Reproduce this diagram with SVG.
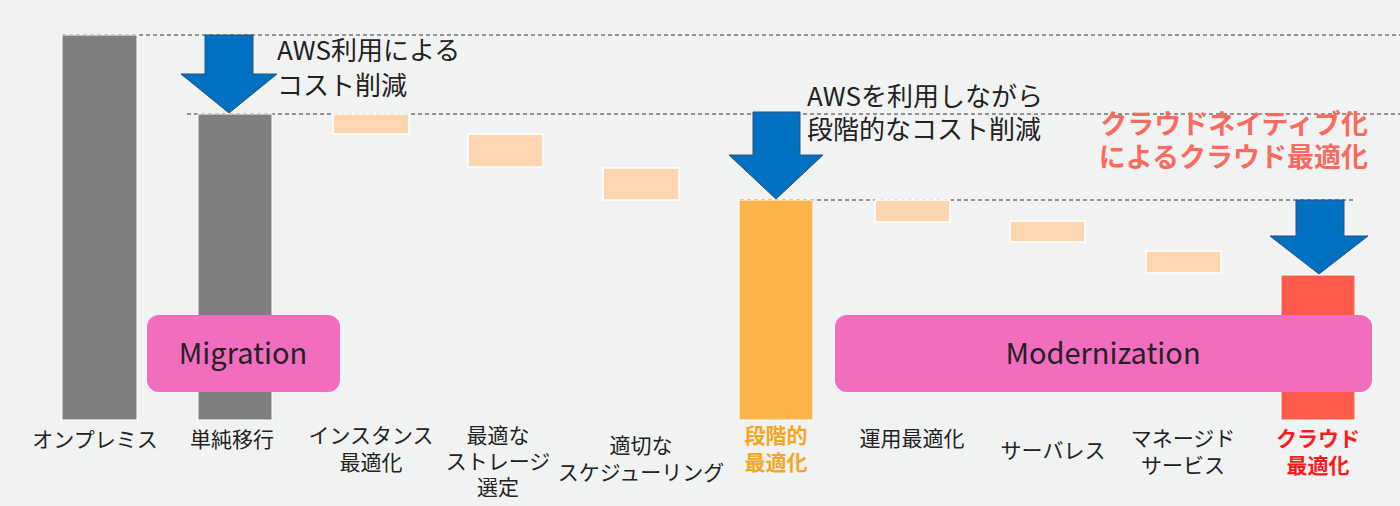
<svg xmlns="http://www.w3.org/2000/svg" width="1400" height="506" viewBox="0 0 1400 506">
<style>
text{font-family:"Noto Sans CJK JP","Noto Sans",sans-serif;fill:#222}
.lbl{font-size:21px;text-anchor:middle}
.big{font-size:26px}
.step{fill:#FDD5B1;stroke:#fff;stroke-width:1.5}
.dash{stroke:#333;stroke-width:1;stroke-dasharray:4 3}
.arr{fill:#0070C0;stroke:#2F4F7F;stroke-width:1}
.pill{fill:#F26DBD}
.red{fill:#F96B5E;font-weight:bold;font-size:27px}
</style>
<rect width="1400" height="506" fill="#F1F2F2"/>
<g id="connectors">
<line class="dash" x1="62" y1="35" x2="1400" y2="35"/>
<line class="dash" x1="187" y1="114" x2="1400" y2="114"/>
<line class="dash" x1="740" y1="200" x2="1355" y2="200"/>
</g>
<g id="onprem"><rect x="62" y="35" width="75" height="385" fill="#7F7F7F" stroke="#fff"/><text class="lbl" x="95" y="447">オンプレミス</text></g>
<g id="simple"><rect x="198" y="114" width="74" height="306" fill="#7F7F7F" stroke="#fff"/><text class="lbl" x="232" y="447">単純移行</text></g>
<g id="inst"><rect class="step" x="333" y="114" width="76" height="20"/><text class="lbl" x="371" y="443">インスタンス</text><text class="lbl" x="371" y="470">最適化</text></g>
<g id="storage"><rect class="step" x="468" y="134" width="75" height="33"/><text class="lbl" x="498" y="443">最適な</text><text class="lbl" x="498" y="469">ストレージ</text><text class="lbl" x="498" y="495">選定</text></g>
<g id="sched"><rect class="step" x="603" y="168" width="76" height="32"/><text class="lbl" x="641" y="453">適切な</text><text class="lbl" x="641" y="480">スケジューリング</text></g>
<g id="stage"><rect x="739" y="200" width="74" height="220" fill="#FDB44B" stroke="#fff"/><text class="lbl" x="776" y="443" style="fill:#F5A623;font-weight:bold">段階的</text><text class="lbl" x="776" y="470" style="fill:#F5A623;font-weight:bold">最適化</text></g>
<g id="ops"><rect class="step" x="875" y="200" width="75" height="22"/><text class="lbl" x="912" y="446">運用最適化</text></g>
<g id="serverless"><rect class="step" x="1010" y="221" width="75" height="21"/><text class="lbl" x="1053" y="458">サーバレス</text></g>
<g id="managed"><rect class="step" x="1146" y="251" width="75" height="22"/><text class="lbl" x="1183" y="446">マネージド</text><text class="lbl" x="1183" y="473">サービス</text></g>
<g id="cloud"><rect x="1281" y="275" width="74" height="145" fill="#FF5B4B" stroke="#fff"/><text class="lbl" x="1318" y="446" style="fill:#FF1A1A;font-weight:bold">クラウド</text><text class="lbl" x="1318" y="473" style="fill:#FF1A1A;font-weight:bold">最適化</text></g>
<g id="migration"><rect class="pill" x="147" y="315" width="193" height="77" rx="12"/><text x="243" y="364" style="font-size:29px;text-anchor:middle">Migration</text></g>
<g id="modernization"><rect class="pill" x="835" y="315" width="537" height="77" rx="12"/><text x="1103" y="364" style="font-size:29px;text-anchor:middle">Modernization</text></g>
<g id="arrow1"><polygon class="arr" points="205,35 253,35 253,74 277,74 229,113 181,74 205,74"/><text class="big" x="277" y="60">AWS利用による</text><text class="big" x="277" y="95">コスト削減</text></g>
<g id="arrow2"><polygon class="arr" points="753,112 800,112 800,155 823,155 776,199 729,155 753,155"/><text class="big" x="807" y="106">AWSを利用しながら</text><text class="big" x="807" y="139">段階的なコスト削減</text></g>
<g id="arrow3"><polygon class="arr" points="1296,200 1344,200 1344,236 1368,236 1319,274 1270,236 1296,236"/><text class="red" x="1368" y="134" text-anchor="end">クラウドネイティブ化</text><text class="red" x="1368" y="167" text-anchor="end">によるクラウド最適化</text></g>
</svg>
